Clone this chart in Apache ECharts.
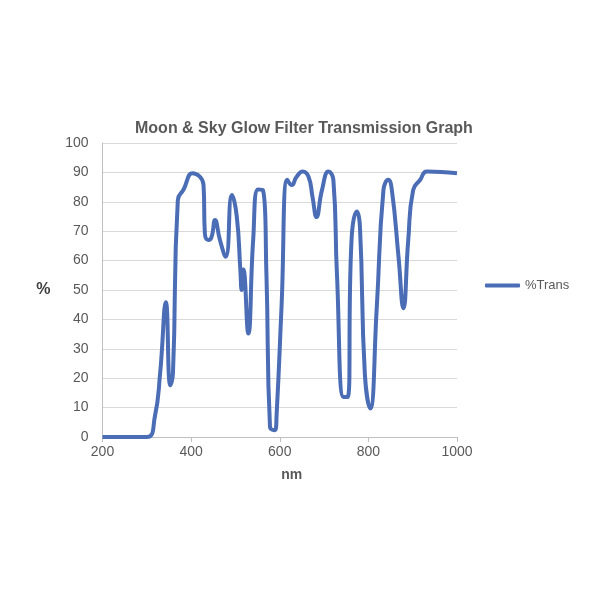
<!DOCTYPE html>
<html><head><meta charset="utf-8">
<script src="https://cdn.jsdelivr.net/npm/echarts@6/dist/echarts.min.js"></script>
<style>html,body{margin:0;padding:0;background:#fff}#c{width:600px;height:600px}</style>
</head><body><div id="c"></div>
<script>
const wavelengths = [200,300,318,330,343,353,359,370,383,403,428,431,439,446,454,465,478,492,503,511,514,518,529,540,551,562,570,578,589,593,604,617,627,638,652,665,674,683,695,710,721,729,744,753,762,774,781,792,804,819,834,845,853,868,879,890,901,917,932,1000];
const transmission = [0,0,6.8,21.6,45.8,17.6,21.6,80.6,84.2,89.7,85.7,69.3,67,68,73.8,67,61.3,82.3,75,57,50,57,35.2,67,84.2,84,55,3.4,2.3,7.9,44.3,87.5,85.7,88.5,90.3,88.5,81.6,74.8,83.8,90.3,87.5,55.7,13.6,13.6,67,76.7,71.5,21.6,9.7,44.3,84,87.5,84,61.3,43.8,67,84,87.5,90.3,89.7];
const seriesName = '%Trans';
const titleText = 'Moon & Sky Glow Filter Transmission Graph';

const chart = echarts.init(document.getElementById('c'));
chart.setOption({
  animation: false,
  backgroundColor: '#fff',
  title: {
    text: titleText, left: 130, top: 116,
    textStyle: { fontFamily: 'Liberation Sans', fontSize: 16, fontWeight: 'bold', color: '#595959' }
  },
  legend: {
    data: [seriesName], left: 480, top: 274, orient: 'vertical',
    icon: 'roundRect', itemWidth: 35, itemHeight: 4, itemGap: 6,
    textStyle: { fontFamily: 'Liberation Sans', fontSize: 13, color: '#595959' }
  },
  grid: { left: 102.5, right: 143, top: 143, bottom: 163, containLabel: false },
  xAxis: {
    type: 'value', min: 200, max: 1000, interval: 200,
    name: 'nm', nameLocation: 'middle', nameGap: 31,
    nameTextStyle: { fontFamily: 'Liberation Sans', fontSize: 14, fontWeight: 'bold', color: '#595959', padding: [0, 0, 0, 24] },
    axisLine: { show: true, lineStyle: { color: '#bfbfbf', width: 1 } },
    axisTick: { show: true, length: 5, lineStyle: { color: '#bfbfbf' } },
    axisLabel: { fontFamily: 'Liberation Sans', fontSize: 14, color: '#595959', margin: 8, formatter: v => String(v) },
    splitLine: { show: false }
  },
  yAxis: {
    type: 'value', min: 0, max: 100, interval: 10,
    name: '%', nameLocation: 'middle', nameGap: 52, nameRotate: 0,
    nameTextStyle: { fontFamily: 'Liberation Sans', fontSize: 16, fontWeight: 'bold', color: '#404040' },
    axisLine: { show: true, lineStyle: { color: '#bfbfbf', width: 1 } },
    axisTick: { show: false },
    axisLabel: { fontFamily: 'Liberation Sans', fontSize: 14, color: '#595959', margin: 14 },
    splitLine: { show: true, lineStyle: { color: '#d9d9d9', width: 1 } }
  },
  series: [{
    name: seriesName, type: 'line',
    data: wavelengths.map((w, i) => [w, transmission[i]]),
    showSymbol: false, smooth: 0.5,
    lineStyle: { color: '#4a6db5', width: 4 },
    itemStyle: { color: '#4a6db5' }
  }]
});
</script></body></html>
